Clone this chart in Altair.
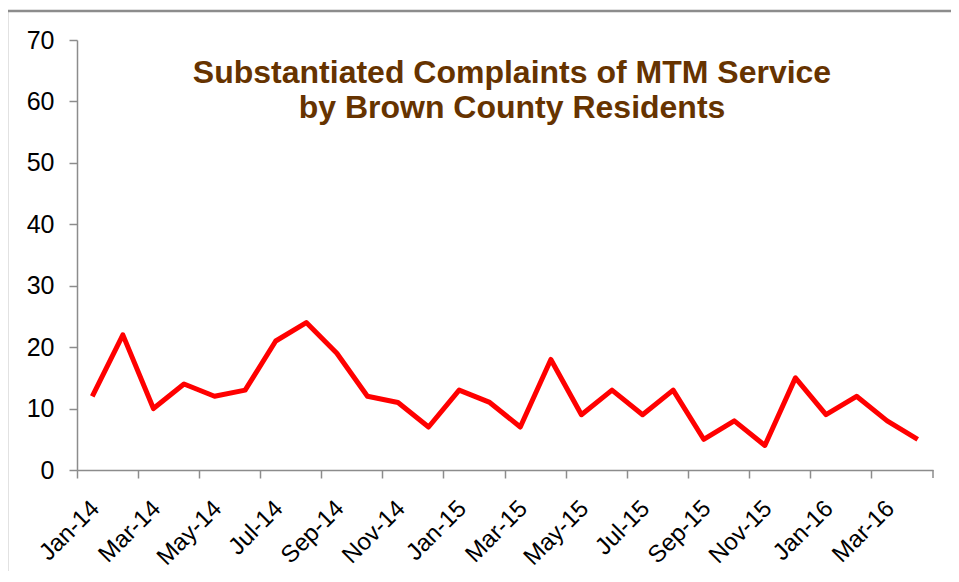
import altair as alt
import pandas as pd

months = ["Jan-14", "Feb-14", "Mar-14", "Apr-14", "May-14", "Jun-14", "Jul-14",
          "Aug-14", "Sep-14", "Oct-14", "Nov-14", "Dec-14", "Jan-15", "Feb-15",
          "Mar-15", "Apr-15", "May-15", "Jun-15", "Jul-15", "Aug-15", "Sep-15",
          "Oct-15", "Nov-15", "Dec-15", "Jan-16", "Feb-16", "Mar-16", "Apr-16"]
complaints = [12, 22, 10, 14, 12, 13, 21, 24, 19, 12, 11, 7, 13, 11, 7, 18,
              9, 13, 9, 13, 5, 8, 4, 15, 9, 12, 8, 5]
title_lines = ["Substantiated Complaints of MTM Service", "by Brown County Residents"]

df = pd.DataFrame({"month": months, "complaints": complaints})

FONT = "Liberation Sans"
W, H = 856, 430
GRAY = "#8c8c8c"

xscale = alt.Scale(type="band", domain=months, paddingInner=0, paddingOuter=0)

line = alt.Chart(df).mark_line(color="#ff0000", strokeWidth=5, strokeJoin="round").encode(
    x=alt.X("month:N", scale=xscale, sort=None,
            axis=alt.Axis(title=None, values=months[::2], labelAngle=-45,
                          bandPosition=0, labelFontSize=24, labelFont=FONT,
                          labelColor="#000000", tickColor=GRAY, domainColor=GRAY,
                          tickSize=8, tickWidth=1.5, domainWidth=1.5, labelPadding=18,
                          labelOffset=-5, grid=False)),
    y=alt.Y("complaints:Q",
            scale=alt.Scale(domain=[0, 70], nice=False),
            axis=alt.Axis(title=None, values=list(range(0, 71, 10)), labelFontSize=25,
                          labelFont=FONT, labelColor="#000000", tickColor=GRAY,
                          domainColor=GRAY, tickSize=8, tickWidth=1.5,
                          domainWidth=1.5, labelPadding=15, grid=False)),
)

end_tick = alt.Chart(alt.Data(values=[{"month": months[-1]}])).mark_rule(
    color=GRAY, strokeWidth=1.5
).encode(
    x=alt.X("month:N", scale=xscale, bandPosition=1),
    y=alt.value(H), y2=alt.value(H + 8),
)

border = alt.Chart(alt.Data(values=[{}])).mark_rect(
    fill=None, stroke=GRAY, strokeWidth=2.5, clip=False
).encode(
    x=alt.value(-70), x2=alt.value(W + 60),
    y=alt.value(-29), y2=alt.value(H + 150),
)

chart = alt.layer(border, line, end_tick).properties(
    width=W, height=H,
    background="#ffffff",
    title=alt.TitleParams(text=title_lines, font=FONT, fontSize=32, fontWeight="bold",
                          color="#663300", anchor="middle", offset=-115, dx=7,
                          lineHeight=35),
    autosize=alt.AutoSizeParams(type="none"),
    padding={"left": 69, "top": 32, "right": 18, "bottom": 101},
).configure_view(stroke="transparent", strokeWidth=0)

chart.save("out.html", embed_options={"renderer": "svg", "actions": False})
